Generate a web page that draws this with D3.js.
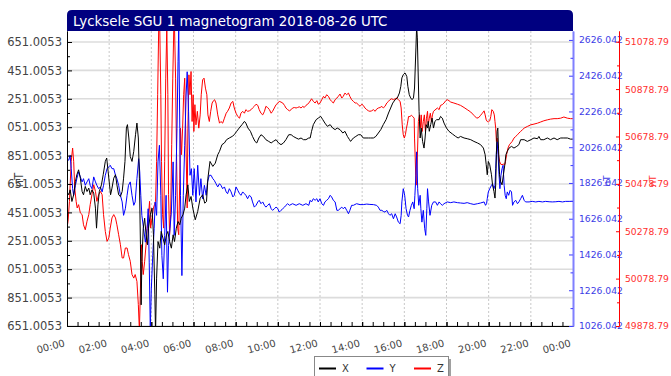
<!DOCTYPE html>
<html><head><meta charset="utf-8">
<script src="https://cdn.jsdelivr.net/npm/d3@7"></script>
<style>body{margin:0;background:#fff}svg{display:block}text{font-family:"DejaVu Sans",sans-serif}</style>
</head><body>
<svg id="c" width="671" height="376"></svg>
<script>
const chartTitle = "Lycksele SGU 1 magnetogram 2018-08-26 UTC";
const timeLabels = ["00:00","02:00","04:00","06:00","08:00","10:00","12:00","14:00","16:00","18:00","20:00","22:00","00:00"];
const seriesNames = ["X","Y","Z"];
const unitLabel = "nT";
// axis ranges (nT)
const xAxisRange = [10651.0053, 12728.5];
const yAxisRange = [1026.042, 2676.0];
const zAxisRange = [49878.79, 51124.0];
// [minute of day, nT]
const seriesX = [[0,11598],[5,11575],[9,11610],[14,11528],[19,11575],[24,11669],[28,11716],[33,11751],[38,11692],[43,11598],[47,11575],[52,11634],[57,11598],[62,11622],[66,11575],[71,11610],[76,11587],[81,11481],[84,11340],[88,11504],[92,11598],[98,11645],[103,11716],[109,11810],[113,11834],[117,11740],[121,11645],[124,11575],[128,11622],[133,11692],[138,11716],[142,11645],[147,11575],[152,11563],[157,11598],[161,11692],[165,11810],[169,12045],[172,12069],[176,11975],[180,11845],[185,11810],[190,11881],[195,11998],[199,12080],[203,11975],[206,11692],[209,11223],[211,10800],[213,11105],[217,11340],[221,11410],[225,11293],[229,11223],[232,11340],[237,11434],[242,11481],[246,11293],[250,10870],[252,10600],[255,10988],[259,11246],[264,11199],[268,11317],[273,11270],[278,11223],[283,11293],[287,11317],[292,11246],[297,11199],[302,11293],[306,11246],[311,11340],[316,11387],[321,11364],[325,11410],[330,11434],[335,11481],[339,11575],[344,11645],[348,11528],[353,11563],[358,11481],[365,11399],[372,11458],[379,11551],[386,11575],[392,11516],[397,11528],[401,11692],[407,11810],[415,11775],[422,11798],[429,11857],[434,11881],[441,11928],[448,11940],[454,11963],[462,11975],[470,11986],[476,11998],[483,12022],[490,12045],[498,12069],[505,12092],[509,12080],[515,12045],[522,12022],[528,11986],[535,11951],[540,11940],[546,11975],[552,11998],[559,11986],[566,11963],[574,11951],[581,11940],[587,11951],[595,11963],[602,11940],[609,11928],[616,11940],[623,11963],[631,11998],[638,11998],[644,11986],[652,11975],[659,11967],[666,11975],[673,11963],[680,11963],[688,11975],[692,11975],[696,12022],[701,12069],[709,12104],[715,12115],[722,12127],[728,12104],[734,12080],[741,12057],[749,12069],[756,12045],[763,12034],[769,12045],[777,12034],[785,12010],[791,12022],[798,11986],[804,11963],[807,11951],[815,11975],[822,11986],[829,11998],[836,11998],[843,11975],[851,11975],[858,11975],[864,11975],[872,11975],[879,11986],[886,12010],[893,12034],[900,12069],[908,12104],[915,12151],[921,12186],[927,12221],[934,12245],[940,12257],[946,12292],[950,12339],[953,12398],[957,12421],[962,12433],[967,12409],[970,12339],[974,12280],[978,12257],[982,12245],[986,12257],[989,12327],[991,12468],[993,12609],[995,12760],[997,12680],[999,12468],[1002,12163],[1005,11975],[1008,12045],[1012,11951],[1016,11904],[1019,11975],[1022,12069],[1026,12045],[1028,12092],[1031,12022],[1035,12069],[1039,12115],[1043,12045],[1047,12092],[1052,12104],[1059,12104],[1063,12127],[1068,12115],[1073,12080],[1080,12045],[1087,12022],[1097,12003],[1106,11986],[1113,11975],[1120,11986],[1130,11975],[1139,11970],[1149,11963],[1158,11951],[1168,11940],[1177,11928],[1185,11904],[1190,11857],[1193,11787],[1196,11716],[1199,11810],[1203,11787],[1208,11716],[1211,11645],[1215,11598],[1218,11552],[1220,11645],[1222,11857],[1224,12022],[1226,12045],[1228,11904],[1231,11716],[1234,11669],[1238,11645],[1242,11716],[1246,11787],[1249,11857],[1253,11881],[1258,11904],[1265,11916],[1272,11904],[1280,11916],[1286,11928],[1291,11963],[1301,11963],[1310,11951],[1320,11963],[1329,11975],[1339,11970],[1343,11986],[1348,11963],[1357,11963],[1367,11975],[1376,11963],[1386,11975],[1395,11963],[1405,11975],[1414,11975],[1424,11975],[1433,11967],[1440,11967]];
const seriesY = [[0,1962],[5,1953],[9,1981],[12,1906],[16,1794],[19,1757],[24,1813],[28,1850],[33,1888],[38,1860],[43,1832],[47,1850],[52,1813],[57,1832],[62,1850],[66,1813],[71,1794],[76,1860],[81,1832],[85,1813],[90,1794],[95,1804],[100,1776],[104,1813],[109,1869],[114,1906],[119,1916],[123,1925],[128,1906],[133,1906],[138,1869],[142,1850],[147,1813],[152,1757],[157,1720],[161,1645],[166,1682],[171,1757],[175,1813],[180,1832],[185,1757],[190,1701],[194,1720],[199,1850],[204,1962],[207,1888],[210,1757],[213,1645],[218,1570],[223,1495],[228,1570],[231,1682],[234,1383],[237,1010],[240,1234],[244,1421],[248,1570],[251,1720],[255,1645],[259,1944],[263,2037],[267,1757],[270,1421],[274,1290],[278,1533],[282,1757],[286,1215],[289,1477],[293,1570],[297,1663],[302,1944],[305,1533],[309,1757],[313,2131],[316,2504],[318,2690],[321,2131],[323,1757],[327,1308],[331,1757],[335,2037],[339,2318],[342,2448],[346,2224],[350,1869],[354,1906],[358,1757],[362,1906],[367,1720],[372,1925],[377,1757],[381,1850],[386,1738],[391,1813],[396,1757],[400,1832],[405,1869],[410,1869],[415,1850],[419,1841],[424,1822],[429,1804],[434,1822],[438,1813],[443,1794],[448,1804],[453,1776],[457,1766],[462,1794],[467,1776],[472,1748],[476,1757],[481,1804],[486,1785],[491,1766],[495,1757],[500,1776],[505,1766],[509,1757],[514,1738],[519,1757],[524,1748],[528,1720],[533,1691],[538,1701],[543,1720],[547,1729],[552,1710],[557,1720],[562,1701],[566,1691],[571,1701],[576,1710],[581,1682],[585,1673],[590,1682],[595,1691],[600,1682],[604,1663],[609,1673],[614,1682],[619,1691],[623,1701],[628,1710],[633,1701],[642,1710],[652,1701],[661,1710],[671,1701],[680,1710],[688,1701],[692,1729],[696,1720],[701,1738],[706,1729],[711,1738],[715,1720],[720,1738],[725,1710],[730,1701],[734,1720],[739,1729],[744,1738],[749,1757],[753,1748],[758,1729],[763,1720],[768,1673],[772,1673],[777,1682],[782,1691],[786,1682],[791,1691],[796,1673],[801,1654],[805,1673],[810,1701],[815,1701],[824,1710],[834,1705],[843,1705],[853,1708],[862,1706],[872,1705],[881,1701],[886,1691],[891,1673],[896,1673],[900,1667],[905,1663],[910,1673],[915,1654],[919,1645],[924,1654],[929,1626],[934,1654],[938,1636],[943,1607],[948,1598],[951,1645],[953,1720],[957,1794],[961,1757],[965,1682],[969,1645],[972,1636],[976,1673],[980,1701],[984,1720],[988,1682],[990,1757],[993,1869],[995,2000],[998,1794],[1001,1701],[1005,1757],[1007,1682],[1010,1607],[1014,1673],[1018,1570],[1021,1533],[1024,1682],[1026,1794],[1029,1720],[1033,1645],[1038,1701],[1043,1720],[1049,1720],[1054,1701],[1059,1720],[1063,1710],[1068,1701],[1073,1710],[1082,1720],[1092,1716],[1101,1720],[1111,1716],[1120,1714],[1130,1712],[1139,1716],[1149,1710],[1158,1706],[1168,1710],[1177,1714],[1187,1720],[1191,1701],[1194,1710],[1196,1738],[1199,1776],[1203,1794],[1208,1813],[1211,1822],[1215,1794],[1218,1813],[1220,1906],[1222,2000],[1224,2056],[1227,1981],[1229,1888],[1232,1794],[1235,1869],[1238,1906],[1241,1925],[1244,1813],[1247,1757],[1250,1738],[1253,1776],[1257,1757],[1261,1785],[1265,1776],[1268,1701],[1272,1720],[1277,1729],[1282,1710],[1286,1720],[1291,1738],[1296,1757],[1301,1729],[1305,1720],[1315,1720],[1324,1723],[1334,1720],[1343,1723],[1353,1720],[1362,1723],[1372,1721],[1381,1720],[1391,1721],[1400,1723],[1410,1720],[1419,1723],[1429,1723],[1440,1723]];
const seriesZ = [[0,50292],[3,50321],[7,50405],[9,50475],[12,50574],[16,50630],[19,50574],[22,50461],[26,50405],[29,50377],[33,50391],[38,50356],[43,50349],[47,50306],[52,50285],[57,50321],[62,50349],[66,50391],[71,50433],[76,50475],[81,50447],[85,50405],[90,50433],[95,50447],[100,50433],[104,50349],[109,50278],[114,50236],[119,50250],[123,50292],[128,50335],[133,50349],[138,50335],[142,50306],[147,50264],[152,50222],[157,50166],[161,50166],[166,50208],[171,50208],[175,50180],[180,50152],[185,50096],[190,50081],[194,50096],[199,50067],[203,49969],[206,49860],[209,50039],[212,50222],[214,50152],[217,50096],[221,50152],[225,50222],[228,50292],[232,50349],[235,50405],[238,50292],[242,50335],[246,50377],[249,50391],[252,50405],[255,50574],[258,50855],[261,51140],[264,51140],[267,50855],[269,50574],[272,50349],[275,50292],[278,50574],[281,50925],[284,51140],[287,50855],[289,50433],[292,50264],[295,50349],[298,50644],[301,50925],[304,51140],[306,51140],[309,50925],[312,50574],[315,50292],[318,50264],[321,50503],[323,50714],[326,50602],[329,50714],[332,50855],[335,50925],[342,50377],[344,50714],[347,50939],[350,50855],[353,50953],[356,50742],[359,50855],[361,50700],[364,50813],[367,50728],[371,50785],[375,50714],[379,50770],[382,50855],[386,50918],[390,50925],[394,50883],[398,50855],[401,50770],[405,50742],[409,50785],[413,50820],[417,50830],[420,50834],[424,50820],[429,50770],[434,50735],[438,50742],[443,50735],[448,50756],[453,50777],[457,50785],[462,50799],[467,50820],[472,50827],[476,50799],[481,50777],[486,50763],[491,50756],[495,50777],[500,50785],[505,50777],[509,50792],[514,50785],[519,50787],[524,50792],[528,50799],[533,50806],[538,50815],[543,50810],[547,50792],[552,50777],[557,50770],[562,50785],[566,50806],[571,50801],[576,50792],[581,50777],[585,50785],[590,50799],[595,50813],[600,50820],[604,50827],[609,50824],[614,50820],[619,50810],[623,50799],[628,50792],[633,50787],[638,50792],[642,50799],[647,50801],[652,50799],[656,50801],[661,50804],[666,50799],[671,50806],[675,50801],[680,50810],[685,50815],[690,50824],[696,50838],[701,50827],[706,50820],[711,50830],[715,50815],[720,50820],[725,50834],[730,50848],[734,50841],[739,50855],[744,50848],[749,50834],[753,50827],[758,50820],[763,50834],[768,50841],[772,50848],[777,50858],[782,50841],[786,50848],[791,50862],[796,50855],[801,50862],[805,50848],[810,50834],[815,50827],[820,50820],[824,50820],[829,50813],[834,50806],[839,50815],[843,50810],[848,50799],[853,50792],[858,50787],[862,50785],[867,50787],[872,50792],[877,50785],[881,50794],[886,50799],[891,50801],[896,50806],[900,50799],[905,50806],[910,50820],[915,50827],[919,50834],[924,50838],[929,50834],[934,50838],[938,50841],[943,50834],[948,50827],[951,50799],[954,50728],[957,50686],[960,50672],[963,50686],[966,50714],[969,50735],[972,50763],[976,50763],[980,50768],[984,50763],[988,50756],[989,50672],[991,50588],[993,50475],[995,50475],[997,50588],[1000,50742],[1003,50770],[1006,50714],[1008,50770],[1011,50700],[1014,50742],[1017,50770],[1020,50700],[1023,50756],[1026,50785],[1028,50728],[1031,50756],[1034,50777],[1037,50742],[1040,50770],[1043,50785],[1054,50799],[1059,50792],[1063,50810],[1068,50813],[1073,50820],[1078,50830],[1082,50834],[1087,50830],[1092,50824],[1101,50820],[1111,50815],[1120,50810],[1130,50801],[1139,50792],[1149,50782],[1158,50768],[1166,50756],[1172,50759],[1177,50768],[1182,50777],[1187,50787],[1190,50770],[1193,50749],[1196,50742],[1199,50740],[1203,50745],[1206,50763],[1209,50792],[1213,50785],[1216,50770],[1218,50742],[1220,50714],[1222,50658],[1224,50672],[1226,50644],[1228,50602],[1231,50574],[1234,50562],[1238,50560],[1242,50562],[1246,50560],[1248,50574],[1251,50602],[1255,50630],[1259,50644],[1263,50651],[1267,50658],[1272,50672],[1277,50679],[1282,50686],[1286,50693],[1291,50700],[1296,50707],[1301,50714],[1310,50721],[1320,50728],[1329,50731],[1339,50735],[1348,50740],[1357,50745],[1367,50749],[1376,50752],[1386,50754],[1395,50754],[1405,50756],[1414,50761],[1424,50756],[1433,50754],[1440,50754]];

const svg = d3.select("#c");
const L = 67, R = 573, T = 31, B = 326, ZX = 619;
const x = d3.scaleLinear().domain([0, 1440]).range([L, R]);
const yX = d3.scaleLinear().domain(xAxisRange).range([B, T]);
const yY = d3.scaleLinear().domain(yAxisRange).range([B, T]);
const yZ = d3.scaleLinear().domain(zAxisRange).range([B, T]);

const stepsFrom = (start, end, step) => d3.range(0, Math.floor((end - start) / step + 1e-6) + 1).map(i => start + i * step);
const majX = stepsFrom(xAxisRange[0], xAxisRange[1], 200), minX = stepsFrom(xAxisRange[0] + 100, xAxisRange[1], 200);
const majY = stepsFrom(yAxisRange[0], yAxisRange[1], 200), minY = stepsFrom(yAxisRange[0] + 100, yAxisRange[1], 200);
const majZ = stepsFrom(zAxisRange[0], zAxisRange[1], 200), minZ = stepsFrom(zAxisRange[0] + 100, zAxisRange[1], 200);
const timeMajor = timeLabels.map((d, i) => i * 120);
const timeMinor = d3.range(0, 1441, 30);

const defs = svg.append("defs");
defs.append("clipPath").attr("id", "plotClip").append("rect").attr("x", L).attr("y", T).attr("width", R - L).attr("height", B - T);

// grid
svg.append("g").selectAll("line").data(majX).join("line")
  .attr("x1", L).attr("x2", R).attr("y1", d => yX(d)).attr("y2", d => yX(d))
  .attr("stroke", "#dcdcdc").attr("stroke-width", 1.6);
svg.append("g").selectAll("line").data(timeMajor.slice(1, -1)).join("line")
  .attr("x1", d => x(d)).attr("x2", d => x(d)).attr("y1", T).attr("y2", B)
  .attr("stroke", "#c8c8c8").attr("stroke-width", 1).attr("stroke-dasharray", "2,2");

// series (X on top)
const line = ys => d3.line().x(d => x(d[0])).y(d => ys(d[1]));
const plotG = svg.append("g").attr("clip-path", "url(#plotClip)");
plotG.append("path").datum(seriesZ).attr("d", line(yZ)).attr("fill", "none").attr("stroke", "#ff0000").attr("stroke-width", 1);
plotG.append("path").datum(seriesY).attr("d", line(yY)).attr("fill", "none").attr("stroke", "#0000ff").attr("stroke-width", 1);
plotG.append("path").datum(seriesX).attr("d", line(yX)).attr("fill", "none").attr("stroke", "#000000").attr("stroke-width", 1);

// left axis (label shows only the trailing digits, as the visible part in the original)
const fmtLeft = d => d3.format("08.4f")(d % 1000);
const gl = svg.append("g").attr("transform", `translate(${L},0)`);
gl.call(d3.axisLeft(yX).tickValues(majX).tickSize(-5).tickSizeOuter(0).tickPadding(5).tickFormat(fmtLeft));
gl.append("g").call(d3.axisLeft(yX).tickValues(minX).tickSize(-3).tickSizeOuter(0).tickFormat(""));
gl.selectAll("path.domain").attr("stroke", "#000");
gl.selectAll("line").attr("stroke", "#000");
gl.selectAll("text").attr("fill", "#444").style("font-size", "11.5px").style("font-family", "DejaVu Sans");

// bottom axis
const gb = svg.append("g").attr("transform", `translate(0,${B})`);
gb.append("g").call(d3.axisBottom(x).tickValues(timeMinor).tickSize(-4).tickSizeOuter(0).tickFormat(""));
const gbl = gb.append("g").call(d3.axisBottom(x).tickValues(timeMajor).tickSize(-4).tickSizeOuter(0).tickFormat((d, i) => timeLabels[i]));
gb.selectAll("path.domain").attr("stroke", "#000");
gb.selectAll("line").attr("stroke", "#000");
gbl.selectAll("text").attr("x", 0).attr("y", 0).attr("dy", 0)
  .attr("transform", "translate(-2,20) rotate(-15)").attr("text-anchor", "end")
  .attr("fill", "#444").style("font-size", "10px").style("font-family", "DejaVu Sans");

// Y (blue) axis
const gy = svg.append("g").attr("transform", `translate(${R},0)`);
gy.call(d3.axisRight(yY).tickValues(majY).tickSize(-4).tickSizeOuter(0).tickPadding(6).tickFormat(d3.format(".3f")));
gy.append("g").call(d3.axisRight(yY).tickValues(minY).tickSize(-2.5).tickSizeOuter(0).tickFormat(""));
gy.selectAll("path.domain").attr("stroke", "#8080ff").attr("stroke-width", 1.6);
gy.selectAll("line").attr("stroke", "#3c3cff");
gy.selectAll("text").attr("fill", "#3c3ce6").style("font-size", "9.2px").style("font-family", "DejaVu Sans");

// Z (red) axis
const gz = svg.append("g").attr("transform", `translate(${ZX},0)`);
gz.call(d3.axisRight(yZ).tickValues(majZ).tickSize(-3).tickSizeOuter(0).tickPadding(6).tickFormat(d3.format(".2f")));
gz.append("g").call(d3.axisRight(yZ).tickValues(minZ).tickSize(-2).tickSizeOuter(0).tickFormat(""));
gz.selectAll("path.domain").attr("stroke", "#ff0000");
gz.selectAll("line").attr("stroke", "#ff0000");
gz.selectAll("text").attr("fill", "#ff3030").style("font-size", "9.2px").style("font-family", "DejaVu Sans");

// unit labels
svg.append("text").attr("transform", "translate(23,180) rotate(-90)").attr("text-anchor", "middle")
  .attr("fill", "#444").style("font-size", "11.5px").text(unitLabel);
svg.append("text").attr("transform", "translate(610,181) rotate(-90)").attr("text-anchor", "middle")
  .attr("fill", "#3c3ce6").style("font-size", "9px").text(unitLabel);
svg.append("text").attr("transform", "translate(656,181) rotate(-90)").attr("text-anchor", "middle")
  .attr("fill", "#ff3030").style("font-size", "9px").text(unitLabel);

// title bar
const rr = 5;
svg.append("path").attr("d", `M${L},${T} V${10 + rr} Q${L},10 ${L + rr},10 H${R - rr} Q${R},10 ${R},${10 + rr} V${T} Z`).attr("fill", "#000080");
svg.append("text").attr("x", L + 6).attr("y", 26).attr("fill", "#fff").style("font-size", "13.4px").text(chartTitle);

// legend
const lg = svg.append("g");
lg.append("rect").attr("x", 317).attr("y", 359).attr("width", 134).attr("height", 30).attr("fill", "#a0a0a0");
lg.append("rect").attr("x", 314.5).attr("y", 356.5).attr("width", 134).attr("height", 30).attr("fill", "#fff").attr("stroke", "#888");
const legColors = ["#000000", "#0000ff", "#ff0000"];
seriesNames.forEach((n, i) => {
  const x0 = 319 + i * 47.5;
  lg.append("line").attr("x1", x0).attr("x2", x0 + 17).attr("y1", 368.5).attr("y2", 368.5).attr("stroke", legColors[i]).attr("stroke-width", 2);
  lg.append("text").attr("x", x0 + 23).attr("y", 372).attr("fill", "#333").style("font-size", "10px").text(n);
});
</script>
</body></html>
